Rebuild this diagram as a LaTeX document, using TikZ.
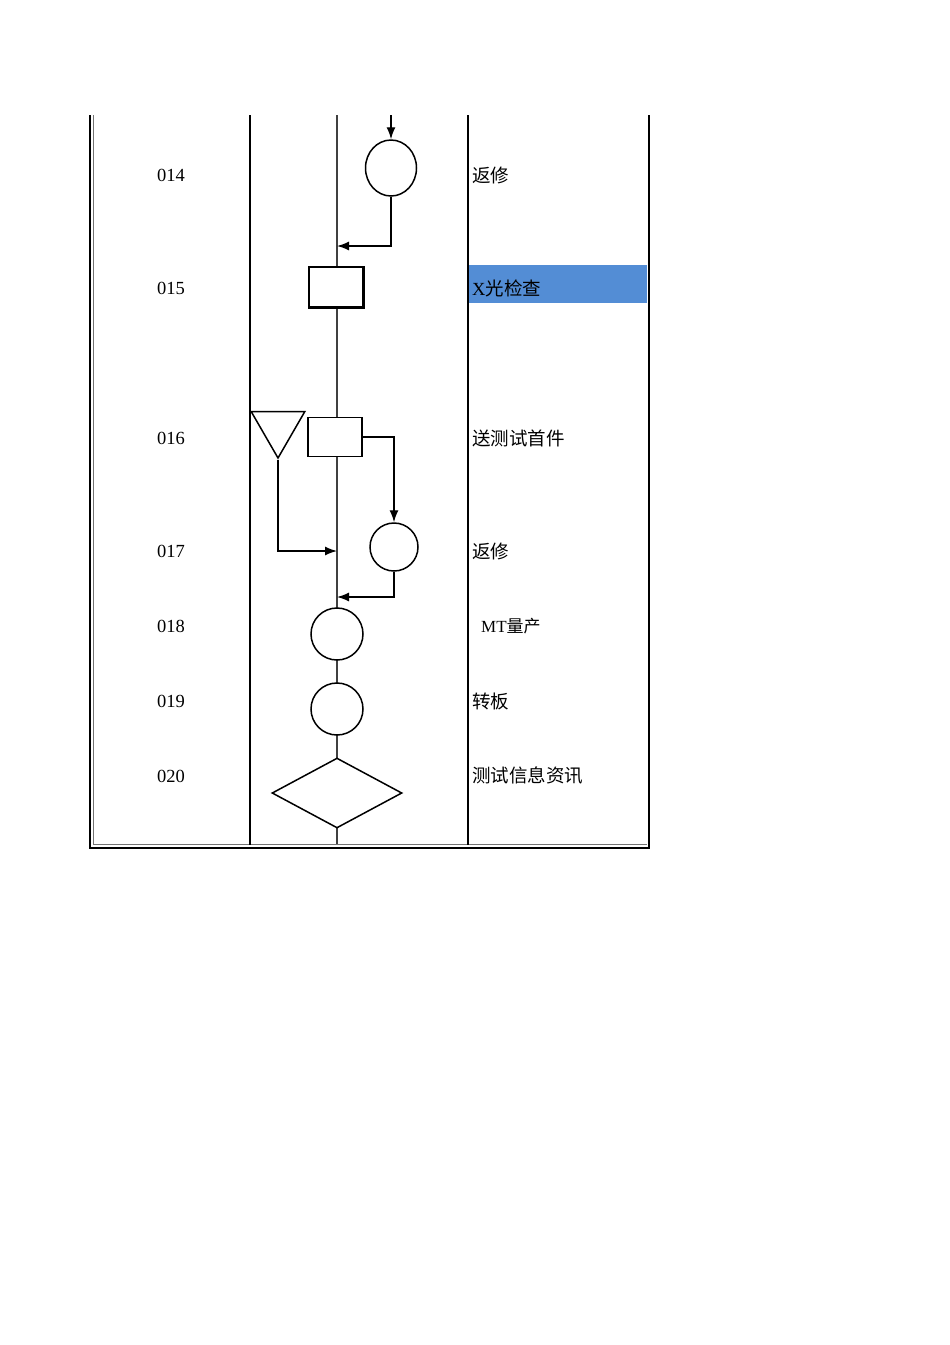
\documentclass[tikz,border=0pt]{standalone}
\usepackage{fontspec}
\setmainfont{Liberation Serif}
\newfontfamily\cjk{Noto Sans CJK SC}
\usepackage{tikz}
\usetikzlibrary{arrows.meta,positioning,shapes.geometric}
\usepackage{xcolor}
\definecolor{cellblue}{RGB}{83,141,213}

\begin{document}
\begin{tikzpicture}[x=1pt, y=-1pt,
  op/.style={draw, circle, fill=white, line width=1.5pt, minimum size=52pt, inner sep=0pt},
  chk/.style={draw, rectangle, fill=white, line width=1.4pt, minimum width=54pt, minimum height=40pt, inner sep=0pt},
  num/.style={font=\fontsize{18.5}{20}\selectfont, inner sep=0pt},
  lbl/.style={anchor=west, font=\fontsize{18.5}{20}\selectfont\cjk, inner sep=0pt},
  arr/.style={-{Latex[length=12pt, width=9pt]}, line width=1.4pt},
  grid/.style={line width=2.2pt},
  flow/.style={draw=black!75, line width=1.3pt}
]
\useasboundingbox (0,0) rectangle (950,1345);

\fill[cellblue] (469,265) rectangle (647,303);

\draw[grid] (90,115) -- (90,848) -- (649,848) -- (649,115);
\draw[black!55, line width=1.2pt] (93.5,115) -- (93.5,844.5) -- (647,844.5);
\draw[grid] (250,115) -- (250,844.5);
\draw[grid] (468,115) -- (468,844.5);

\coordinate (top) at (337,115);
\coordinate (bot) at (337,844);
\draw[flow] (top) -- (bot);

\node[op, ellipse, minimum width=51pt, minimum height=56pt] (r14) at (391,168) {};
\node[chk, line width=1.2pt] (x15) at (336,287) {};
\draw[line width=1.2pt] ([xshift=1.2pt]x15.north east) -- ([xshift=1.2pt,yshift=-1.2pt]x15.south east) -- ([yshift=-1.2pt]x15.south west);
\node[draw, fill=white, line width=1.5pt, regular polygon, regular polygon sides=3,
      shape border rotate=180, minimum size=62pt, inner sep=0pt] (tri16) at (278,427) {};
\node[chk, minimum height=39pt] (s16) at (335,437) {};
\node[op, minimum size=48pt] (r17) at (394,547) {};
\node[op] (mt18) at (337,634) {};
\node[op] (zb19) at (337,709) {};
\node[draw, diamond, fill=white, line width=1.5pt, minimum width=130pt, minimum height=70pt,
      inner sep=0pt, aspect=1.86] (info20) at (337,793) {};

\coordinate (in14) at (391,115);
\coordinate (j14)  at (337,246);
\coordinate (j17a) at (337,551);
\coordinate (j17b) at (337,597);

\draw[arr] (in14) -- (r14.north);
\draw[arr] (r14.south) |- (j14);
\draw[arr] (s16.east) -| (r17.north);
\draw[arr] (tri16.corner 1) |- (j17a);
\draw[arr] (r17.south) |- (j17b);

\node[num] (n14) at (171,175) {014};
\node[num] (n15) at (171,288) {015};
\node[num] (n16) at (171,438) {016};
\node[num] (n17) at (171,551) {017};
\node[num] (n18) at (171,626) {018};
\node[num] (n19) at (171,701) {019};
\node[num] (n20) at (171,776) {020};

\node[lbl] (l14) at (472,175) {返修};
\node[lbl] (l15) at (472,288) {\rmfamily X\cjk 光检查};
\node[lbl] (l16) at (472,438) {送测试首件};
\node[lbl] (l17) at (472,551) {返修};
\node[lbl, font=\fontsize{17}{19}\selectfont\cjk] (l18) at (481,626) {\rmfamily MT\cjk 量产};
\node[lbl] (l19) at (472,701) {转板};
\node[lbl] (l20) at (472,776) {测试信息资讯};
\end{tikzpicture}
\end{document}
